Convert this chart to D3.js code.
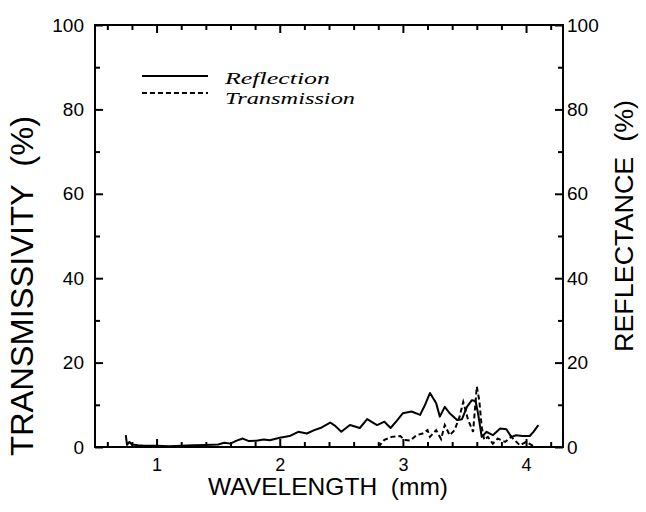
<!DOCTYPE html>
<html>
<head>
<meta charset="utf-8">
<script src="https://cdn.jsdelivr.net/npm/d3@7/dist/d3.min.js"></script>
<style>
  html, body { margin: 0; padding: 0; background: #fff; }
  svg { display: block; }
  .tick text { font-family: "Liberation Sans", Arial, sans-serif; font-size: 19px; fill: #000; }
  .xaxis .tick text { font-size: 18px; }
</style>
</head>
<body>
<svg id="chart" width="646" height="512"></svg>
<script>
// ---- data ----
const reflectionX = [0.75, 0.76, 0.78, 0.80, 0.85, 0.90, 1.00, 1.10, 1.20, 1.30, 1.40, 1.50, 1.55, 1.60, 1.65, 1.70, 1.75, 1.81, 1.87, 1.92, 2.00, 2.08, 2.15, 2.22, 2.28, 2.33, 2.41, 2.45, 2.50, 2.57, 2.65, 2.71, 2.79, 2.85, 2.90, 2.95, 3.00, 3.07, 3.14, 3.18, 3.22, 3.27, 3.30, 3.34, 3.38, 3.44, 3.48, 3.52, 3.56, 3.59, 3.61, 3.64, 3.68, 3.73, 3.79, 3.84, 3.88, 3.92, 3.97, 4.03, 4.06, 4.10];
const reflectionY = [2.8, 0.5, 1.2, 0.6, 0.4, 0.3, 0.3, 0.2, 0.3, 0.4, 0.5, 0.6, 1.0, 0.8, 1.5, 2.0, 1.4, 1.5, 1.8, 1.6, 2.2, 2.6, 3.6, 3.2, 4.0, 4.5, 5.8, 5.0, 3.6, 5.2, 4.5, 6.6, 5.2, 6.0, 4.5, 6.2, 8.0, 8.4, 7.6, 10.0, 12.8, 10.4, 7.2, 9.5, 8.0, 6.4, 6.6, 9.5, 11.1, 10.9, 8.0, 2.4, 3.6, 2.8, 4.4, 4.2, 2.4, 2.8, 2.6, 2.6, 3.6, 5.2];
const transmissionX = [2.80, 2.85, 2.91, 2.98, 3.01, 3.06, 3.11, 3.16, 3.20, 3.22, 3.27, 3.31, 3.34, 3.38, 3.42, 3.46, 3.49, 3.53, 3.57, 3.60, 3.62, 3.64, 3.66, 3.69, 3.73, 3.77, 3.83, 3.88, 3.95, 4.00, 4.05, 4.07];
const transmissionY = [0, 1.7, 2.4, 2.6, 1.7, 1.5, 2.8, 3.2, 4.0, 2.4, 4.0, 1.9, 5.2, 2.8, 4.0, 7.2, 10.7, 6.4, 3.6, 14.3, 11.1, 4.8, 1.7, 2.4, 0.8, 2.0, 1.2, 2.4, 0.4, 1.2, 0.4, 0];
const xMajorTicks = [1, 2, 3, 4];
const xMinorTicks = [0.6, 0.8, 1.2, 1.4, 1.6, 1.8, 2.2, 2.4, 2.6, 2.8, 3.2, 3.4, 3.6, 3.8, 4.2];
const yMajorTicks = [0, 20, 40, 60, 80, 100];
const yMinorTicks = [10, 30, 50, 70, 90];
const legendLabels = ["Reflection", "Transmission"];
const xTitle = "WAVELENGTH  (mm)";
const yLeftTitle = "TRANSMISSIVITY  (%)";
const yRightTitle = "REFLECTANCE  (%)";

// ---- layout ----
const L = 95, R = 563, T = 25, B = 447;
const svg = d3.select("#chart");
const x = d3.scaleLinear().domain([0.5, 4.3]).range([L, R]);
const y = d3.scaleLinear().domain([0, 100]).range([B, T]);

function styleAxis(g) {
  g.select(".domain").remove();
  g.selectAll(".tick line").attr("stroke", "#000").attr("stroke-width", 2);
}

// bottom
svg.append("g").attr("class", "xaxis").attr("transform", `translate(0,${B})`)
  .call(d3.axisBottom(x).tickValues(xMajorTicks).tickSize(-8).tickPadding(11).tickFormat(d3.format("d")))
  .call(styleAxis);
svg.append("g").attr("transform", `translate(0,${B})`)
  .call(d3.axisBottom(x).tickValues(xMinorTicks).tickSize(-5).tickFormat(""))
  .call(styleAxis);
// top
svg.append("g").attr("transform", `translate(0,${T})`)
  .call(d3.axisTop(x).tickValues(xMajorTicks).tickSize(-8).tickFormat(""))
  .call(styleAxis);
svg.append("g").attr("transform", `translate(0,${T})`)
  .call(d3.axisTop(x).tickValues(xMinorTicks).tickSize(-5).tickFormat(""))
  .call(styleAxis);
// left
svg.append("g").attr("transform", `translate(${L},0)`)
  .call(d3.axisLeft(y).tickValues(yMajorTicks).tickSize(-8).tickPadding(11).tickFormat(d3.format("d")))
  .call(styleAxis);
svg.append("g").attr("transform", `translate(${L},0)`)
  .call(d3.axisLeft(y).tickValues(yMinorTicks).tickSize(-5).tickFormat(""))
  .call(styleAxis);
// right
svg.append("g").attr("transform", `translate(${R},0)`)
  .call(d3.axisRight(y).tickValues(yMajorTicks).tickSize(-8).tickPadding(4).tickFormat(d3.format("d")))
  .call(styleAxis);
svg.append("g").attr("transform", `translate(${R},0)`)
  .call(d3.axisRight(y).tickValues(yMinorTicks).tickSize(-5).tickFormat(""))
  .call(styleAxis);

// frame
svg.append("rect").attr("x", L).attr("y", T).attr("width", R - L).attr("height", B - T)
  .attr("fill", "none").attr("stroke", "#000").attr("stroke-width", 2);

// lines
const line = d3.line().x(d => x(d[0])).y(d => y(d[1]));
const refl = reflectionX.map((v, i) => [v, reflectionY[i]]);
const trans = transmissionX.map((v, i) => [v, transmissionY[i]]);
svg.append("path").datum(refl).attr("d", line)
  .attr("fill", "none").attr("stroke", "#000").attr("stroke-width", 2).attr("stroke-linejoin", "round");
svg.append("path").datum(trans).attr("d", line)
  .attr("fill", "none").attr("stroke", "#000").attr("stroke-width", 2).attr("stroke-dasharray", "5,3");

// legend
const lg = svg.append("g");
lg.append("line").attr("x1", 142).attr("x2", 208).attr("y1", 76).attr("y2", 76)
  .attr("stroke", "#000").attr("stroke-width", 2);
lg.append("line").attr("x1", 142).attr("x2", 208).attr("y1", 93).attr("y2", 93)
  .attr("stroke", "#000").attr("stroke-width", 2).attr("stroke-dasharray", "5,3");
lg.selectAll("text.lab").data(legendLabels).enter().append("text")
  .attr("class", "lab")
  .attr("x", 225).attr("y", (d, i) => 84 + i * 20)
  .attr("textLength", (d, i) => i === 0 ? 105 : 130)
  .attr("lengthAdjust", "spacingAndGlyphs")
  .style("font-family", "'Liberation Serif', 'Times New Roman', serif")
  .style("font-style", "italic").style("font-size", "17px")
  .text(d => d);

// titles
svg.append("text").attr("x", 328).attr("y", 495).attr("text-anchor", "middle")
  .style("font-family", "'Liberation Sans', Arial, sans-serif").style("font-size", "24px")
  .style("white-space", "pre").attr("textLength", 240).attr("lengthAdjust", "spacingAndGlyphs")
  .text(xTitle);
svg.append("text").attr("transform", "translate(33,286) rotate(-90)").attr("text-anchor", "middle")
  .style("font-family", "'Liberation Sans', Arial, sans-serif").style("font-size", "31px")
  .style("white-space", "pre").attr("textLength", 340).attr("lengthAdjust", "spacingAndGlyphs")
  .text(yLeftTitle);
svg.append("text").attr("transform", "translate(633,226) rotate(-90)").attr("text-anchor", "middle")
  .style("font-family", "'Liberation Sans', Arial, sans-serif").style("font-size", "26px")
  .style("white-space", "pre").attr("textLength", 252).attr("lengthAdjust", "spacingAndGlyphs")
  .text(yRightTitle);
</script>
</body>
</html>
